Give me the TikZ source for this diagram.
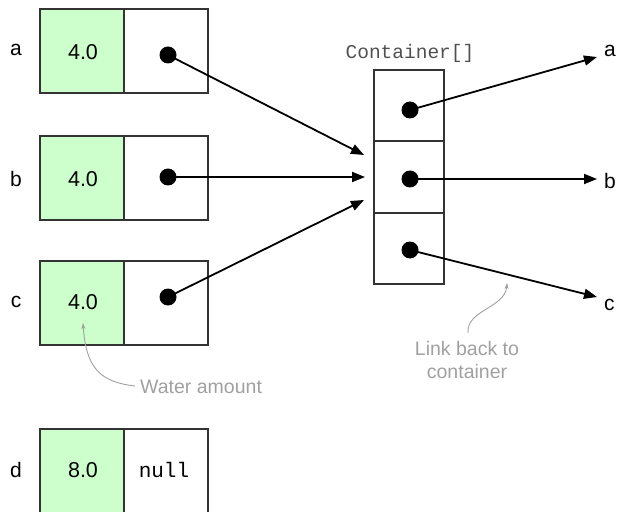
\documentclass[tikz,border=0pt]{standalone}
\usepackage{fontspec}
\setmainfont{Liberation Sans}
\newfontfamily\monof{Liberation Mono}
\usetikzlibrary{arrows.meta}
\definecolor{water}{HTML}{CCFFCC}
\definecolor{boxline}{HTML}{333333}
\definecolor{note}{HTML}{A0A0A0}
\definecolor{codegray}{HTML}{505050}
\tikzset{
  cell/.style={draw=boxline, line width=1.1bp},
  wcell/.style={cell, fill=water},
  val/.style={font=\fontsize{21.5bp}{25bp}\selectfont, inner sep=0},
  lbl/.style={font=\fontsize{21bp}{25bp}\selectfont, inner sep=0},
  dot/.style={circle, fill=black, inner sep=0, minimum size=17bp},
  arr/.style={line width=1.8bp, -{Triangle[length=13bp,width=10bp]}},
  notearr/.style={draw=note, line width=0.9bp, -{Stealth[length=6bp,width=4bp]}},
  notetext/.style={font=\fontsize{19.5bp}{23bp}\selectfont, text=note, inner sep=0}
}
\begin{document}
\begin{tikzpicture}[x=1bp,y=-1bp]
\useasboundingbox (0,0) rectangle (618,512);
% variable boxes
\foreach \t in {9,136,261}{
  \draw[wcell] (40,\t) rectangle (124,\t+84);
  \draw[cell] (124,\t) rectangle (208,\t+84);
}
\draw[wcell] (40,429) rectangle (124,520);
\draw[cell] (124,429) rectangle (208,520);
\node[val] (va) at (83,52) {4.0};
\node[val] (vb) at (83,179) {4.0};
\node[val] (vc) at (83,302) {4.0};
\node[val] (vd) at (83,470) {8.0};
\node[font=\monof\fontsize{21bp}{25bp}\selectfont, inner sep=0] (nul) at (164,470) {null};
\node[lbl] (la) at (16,50) {a};
\node[lbl] (lb) at (16,179) {b};
\node[lbl] (lc) at (16,302) {c};
\node[lbl] (ld) at (16,470) {d};
\node[dot] (da) at (168,55) {};
\node[dot] (db) at (168,177) {};
\node[dot] (dc) at (168,297) {};
% container
\node[font=\monof\fontsize{19.5bp}{23bp}\selectfont, text=codegray, inner sep=0] (ctitle) at (410,53) {Container[]};
\draw[cell] (374,70) rectangle (444,141);
\draw[cell] (374,141) rectangle (444,213);
\draw[cell] (374,213) rectangle (444,284);
\node[dot] (k1) at (410,110) {};
\node[dot] (k2) at (410,179) {};
\node[dot] (k3) at (410,250) {};
% incoming arrows
\coordinate (ia) at (364,155);
\coordinate (ib) at (365,177);
\coordinate (ic) at (364,200);
\draw[arr] (da.center) -- (ia);
\draw[arr] (db.center) -- (ib);
\draw[arr] (dc.center) -- (ic);
% outgoing arrows
\node[lbl, anchor=west] (ra) at (604,51) {a};
\node[lbl, anchor=west] (rb) at (604,181) {b};
\node[lbl, anchor=west] (rc) at (604,305) {c};
\coordinate (oa) at (597,57);
\coordinate (ob) at (597,179);
\coordinate (oc) at (597,297);
\draw[arr] (k1.center) -- (oa);
\draw[arr] (k2.center) -- (ob);
\draw[arr] (k3.center) -- (oc);
% notes
\node[notetext, anchor=west] (wat) at (140,387) {Water amount};
\coordinate (wstart) at (135,386);
\coordinate (wtip) at (83,323);
\draw[notearr] (wstart) .. controls (100,382) and (86,368) .. (wtip);
\node[notetext, align=center] (link) at (467,360) {Link back to\\container};
\coordinate (lstart) at (468,333);
\coordinate (ltip) at (507,283);
\draw[notearr] (lstart) .. controls (466,310) and (505,308) .. (ltip);
\end{tikzpicture}
\end{document}
